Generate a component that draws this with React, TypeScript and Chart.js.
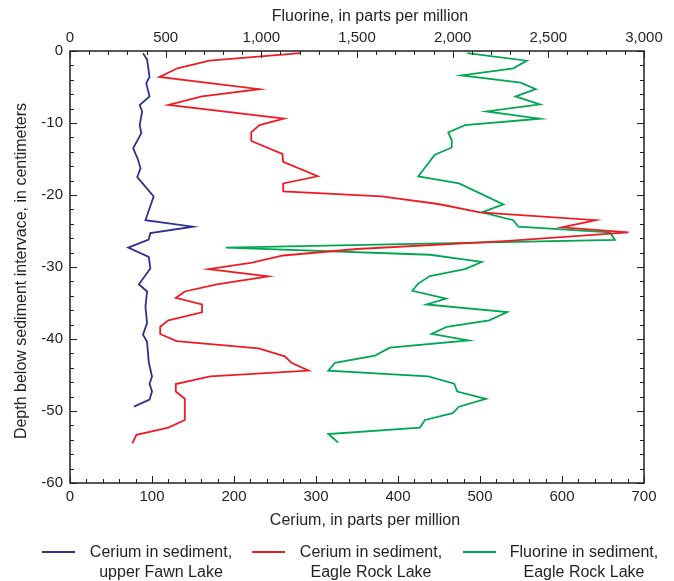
import React, { useEffect, useRef } from "react";
import { Chart, registerables } from "chart.js";

Chart.register(...registerables);

// Cerium, upper Fawn Lake (ppm) vs depth (cm)
const fawnDepth = [-0.3, -1.2, -3.6, -4.5, -6.3, -7.5, -8.4, -10.3, -11.4, -13.5, -15.1, -16.3, -17.5, -20.2, -23.5, -24.4, -25.3, -26.2, -27.3, -28.6, -30.2, -32.4, -33.4, -35.5, -37.8, -39.4, -40.4, -43.2, -45.2, -46.2, -47.3, -48.4, -49.4];
const fawnCerium = [89, 94, 97, 93, 97, 85, 88, 85, 87, 77, 83, 86, 82, 102, 92, 150, 98, 96, 71, 96, 98, 84, 94, 92, 94, 89, 94, 96, 100, 97, 100, 97, 78];

// Cerium, Eagle Rock Lake (ppm) vs depth (cm)
const eagleCeDepth = [-0.3, -1.35, -2.4, -3.6, -5.3, -6.3, -7.5, -9.4, -10.3, -11.3, -12.5, -14.3, -15.4, -17.4, -18.4, -19.5, -20.2, -21.25, -22.4, -23.5, -24.5, -25.2, -26.4, -27.5, -28.4, -29.4, -30.3, -31.3, -32.4, -33.4, -34.3, -35.2, -36.3, -37.4, -38.3, -39.3, -40.3, -41.3, -42.4, -43.3, -44.4, -45.2, -46.25, -47.3, -48.3, -51.25, -52.3, -53.3, -54.5];
const eagleCerium = [281, 170, 131, 109, 231, 161, 120, 261, 231, 221, 221, 259, 260, 302, 260, 260, 380, 449, 500, 641, 600, 681, 530, 350, 260, 222, 169, 242, 179, 140, 129, 161, 161, 120, 110, 110, 130, 230, 262, 270, 291, 171, 129, 129, 140, 140, 120, 81, 76];

// Fluorine, Eagle Rock Lake (ppm) vs depth (cm)
const eagleFDepth = [-0.3, -1.35, -2.4, -3.4, -4.4, -5.3, -6.3, -7.4, -8.4, -9.4, -10.3, -11.3, -12.4, -13.4, -14.4, -17.4, -18.4, -21.3, -22.4, -23.5, -24.4, -25.2, -26.25, -27.3, -28.3, -29.3, -30.3, -31.25, -32.3, -33.3, -34.4, -35.2, -36.25, -37.4, -38.3, -39.3, -40.2, -41.2, -42.3, -43.3, -44.4, -45.2, -46.2, -47.3, -48.3, -49.4, -50.3, -51.25, -52.3, -53.2, -54.4];
const eagleFluorine = [2076, 2387, 2317, 2047, 2355, 2434, 2329, 2456, 2177, 2456, 2064, 1977, 1995, 1995, 1907, 1820, 2033, 2265, 2152, 2317, 2343, 2822, 2848, 815, 1881, 2152, 2064, 1881, 1820, 1789, 1965, 1864, 2285, 2191, 1969, 1890, 2082, 1672, 1594, 1385, 1350, 1873, 2008, 2024, 2174, 2033, 2000, 1855, 1829, 1350, 1402];

const seriesLabels = [
  ["Cerium in sediment,", "upper Fawn Lake"],
  ["Cerium in sediment,", "Eagle Rock Lake"],
  ["Fluorine in sediment,", "Eagle Rock Lake"],
];
const seriesColors = ["#2e3192", "#ed1c24", "#00a651"];

const bottomTitle = "Cerium, in parts per million";
const topTitle = "Fluorine, in parts per million";
const leftTitle = "Depth below sediment intervace, in centimeters";

const FONT = "'Liberation Sans', Arial, sans-serif";
const TEXT = "#231f20";

const toPoints = (ys: number[], xs: number[]) => ys.map((y, i) => ({ x: xs[i], y }));

const decorPlugin = {
  id: "decor",
  afterDraw(chart: any) {
    const { ctx, chartArea } = chart;
    const { left, right, top, bottom } = chartArea;
    const xs = chart.scales.x;
    const x2 = chart.scales.x2;
    const ys = chart.scales.y;
    ctx.save();
    ctx.strokeStyle = TEXT;
    ctx.lineWidth = 1.5;
    ctx.strokeRect(left, top, right - left, bottom - top);
    ctx.lineWidth = 1;
    ctx.beginPath();
    for (let v = 0; v <= 700; v += 20) {
      const px = Math.round(xs.getPixelForValue(v)) + 0.5;
      const len = v % 100 === 0 ? 7 : 4;
      ctx.moveTo(px, bottom);
      ctx.lineTo(px, bottom - len);
    }
    for (let v = 0; v <= 3000; v += 100) {
      const px = Math.round(x2.getPixelForValue(v)) + 0.5;
      const len = v % 500 === 0 ? 7 : 4;
      ctx.moveTo(px, top);
      ctx.lineTo(px, top + len);
    }
    for (let v = -60; v <= 0; v += 2) {
      const py = Math.round(ys.getPixelForValue(v)) + 0.5;
      const len = v % 10 === 0 ? 7 : 4;
      ctx.moveTo(left, py);
      ctx.lineTo(left + len, py);
      ctx.moveTo(right, py);
      ctx.lineTo(right - len, py);
    }
    ctx.stroke();

    // titles
    ctx.fillStyle = TEXT;
    ctx.font = `16px ${FONT}`;
    ctx.textAlign = "center";
    ctx.textBaseline = "middle";
    const cx = (left + right) / 2;
    ctx.fillText(bottomTitle, cx + 8, 521);
    ctx.fillText(topTitle, cx + 13, 17);
    ctx.save();
    ctx.translate(22, (top + bottom) / 2 + 4);
    ctx.rotate(-Math.PI / 2);
    ctx.fillText(leftTitle, 0, 0);
    ctx.restore();

    // legend
    const swatchX = [42, 252, 463];
    const textCx = [161, 371, 584];
    chart.data.datasets.forEach((ds: any, i: number) => {
      ctx.strokeStyle = ds.borderColor;
      ctx.lineWidth = 2;
      ctx.beginPath();
      ctx.moveTo(swatchX[i], 552);
      ctx.lineTo(swatchX[i] + 33, 552);
      ctx.stroke();
      ctx.fillStyle = TEXT;
      const lines = seriesLabels[i];
      lines.forEach((t, j) => ctx.fillText(t, textCx[i], 553 + j * 20));
    });
    ctx.restore();
  },
};

export default function App() {
  const ref = useRef<HTMLCanvasElement>(null);
  useEffect(() => {
    document.body.style.margin = "0";
    const tickFont = { family: FONT, size: 15 };
    const chart = new Chart(ref.current!, {
      type: "scatter",
      data: {
        datasets: [
          { label: seriesLabels[0].join(" "), data: toPoints(fawnDepth, fawnCerium), xAxisID: "x", yAxisID: "y", borderColor: seriesColors[0], backgroundColor: seriesColors[0], showLine: true, pointRadius: 0, borderWidth: 1.8, tension: 0 },
          { label: seriesLabels[1].join(" "), data: toPoints(eagleCeDepth, eagleCerium), xAxisID: "x", yAxisID: "y", borderColor: seriesColors[1], backgroundColor: seriesColors[1], showLine: true, pointRadius: 0, borderWidth: 1.8, tension: 0 },
          { label: seriesLabels[2].join(" "), data: toPoints(eagleFDepth, eagleFluorine), xAxisID: "x2", yAxisID: "y", borderColor: seriesColors[2], backgroundColor: seriesColors[2], showLine: true, pointRadius: 0, borderWidth: 1.8, tension: 0 },
        ],
      },
      options: {
        responsive: false,
        animation: false,
        layout: { padding: { left: 0, right: 30, top: 0, bottom: 0 } },
        plugins: { legend: { display: false }, tooltip: { enabled: false } },
        scales: {
          x: {
            type: "linear", position: "bottom", min: 0, max: 700,
            ticks: { stepSize: 100, font: tickFont, color: TEXT, padding: 5, maxRotation: 0 },
            grid: { display: false, drawTicks: false }, border: { display: false },
            afterFit: (s: any) => { s.height = 98; },
          },
          x2: {
            type: "linear", position: "top", min: 0, max: 3000,
            ticks: { stepSize: 500, font: tickFont, color: TEXT, padding: 4, maxRotation: 0 },
            grid: { display: false, drawTicks: false }, border: { display: false },
            afterFit: (s: any) => { s.height = 51; },
          },
          y: {
            type: "linear", position: "left", min: -60, max: 0,
            ticks: { stepSize: 10, font: tickFont, color: TEXT, padding: 7 },
            grid: { display: false, drawTicks: false }, border: { display: false },
            afterFit: (s: any) => { s.width = 70; },
          },
        },
      },
      plugins: [decorPlugin],
    } as any);
    return () => chart.destroy();
  }, []);
  return <canvas ref={ref} width={674} height={581} style={{ display: "block" }} />;
}
